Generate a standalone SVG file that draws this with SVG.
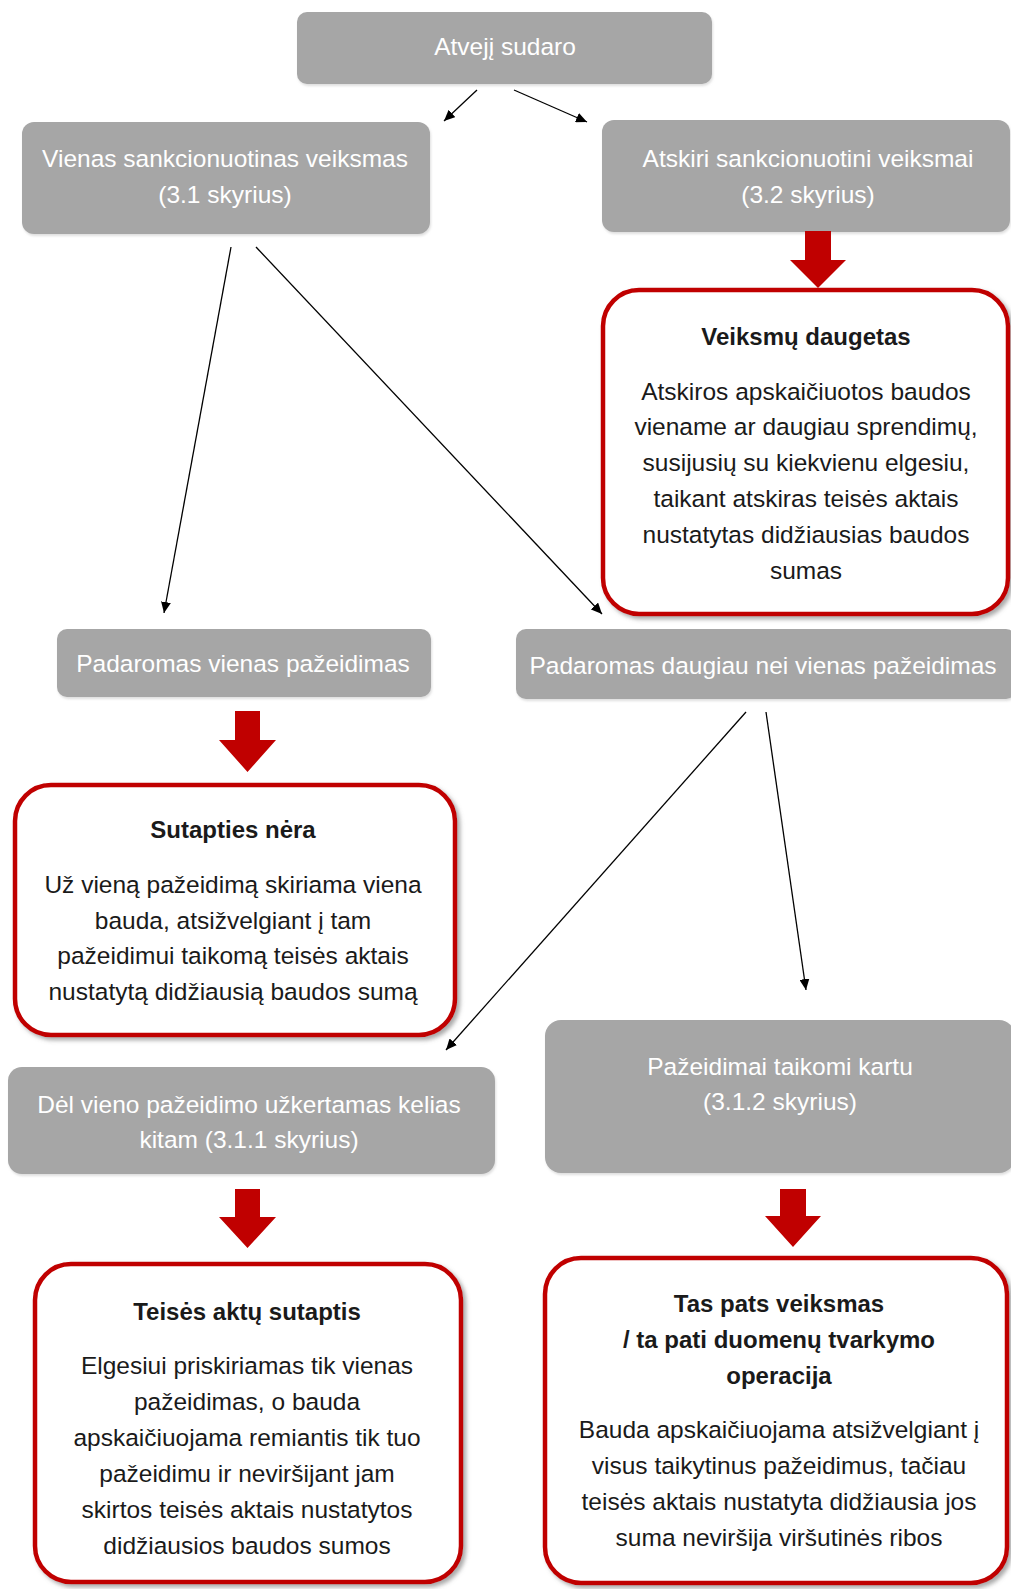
<svg xmlns="http://www.w3.org/2000/svg" width="1011" height="1589" viewBox="0 0 1011 1589">
<style>
text{font-family:"Liberation Sans",Arial,sans-serif;font-size:24.5px;text-anchor:middle}
.g{fill:#a6a6a6}
.gt{fill:#ffffff}
.r{fill:#ffffff;stroke:#c00000;stroke-width:4.5}
.bt{fill:#1a1a1a}
.h{font-weight:bold;font-size:24px}
.ln{stroke:#000;stroke-width:1.3;fill:none}
.ba{fill:#c00000}
</style>
<defs>
<filter id="sh" x="-10%" y="-10%" width="120%" height="120%">
<feDropShadow dx="3" dy="3" stdDeviation="2" flood-color="#6f6f6f" flood-opacity="0.6"/>
</filter>
<filter id="gs" x="-10%" y="-10%" width="120%" height="120%">
<feDropShadow dx="1" dy="2" stdDeviation="1" flood-color="#bfbfbf" flood-opacity="0.5"/>
</filter>
<marker id="ah" markerUnits="userSpaceOnUse" markerWidth="12" markerHeight="10" refX="11" refY="5" orient="auto">
<path d="M0,0 L11,5 L0,10 z" fill="#000"/>
</marker>
</defs>

<g id="n-atveji">
<rect class="g" filter="url(#gs)" x="297" y="12" width="415" height="72" rx="10"/>
<text class="gt" x="505" y="55">Atvejį sudaro</text>
</g>

<g id="n-vienas-veiksmas">
<rect class="g" filter="url(#gs)" x="22" y="122" width="408" height="112" rx="12"/>
<text class="gt" x="225" y="167">Vienas sankcionuotinas veiksmas</text>
<text class="gt" x="225" y="203">(3.1 skyrius)</text>
</g>

<g id="n-atskiri">
<rect class="g" filter="url(#gs)" x="602" y="120" width="408" height="112" rx="12"/>
<text class="gt" x="808" y="167">Atskiri sankcionuotini veiksmai</text>
<text class="gt" x="808" y="203">(3.2 skyrius)</text>
</g>

<g id="n-daugetas">
<rect class="r" filter="url(#sh)" x="603" y="290" width="405" height="324" rx="36"/>
<text class="bt h" x="806" y="345">Veiksmų daugetas</text>
<text class="bt" x="806" y="399.5">Atskiros apskaičiuotos baudos</text>
<text class="bt" x="806" y="435.3">viename ar daugiau sprendimų,</text>
<text class="bt" x="806" y="471.1">susijusių su kiekvienu elgesiu,</text>
<text class="bt" x="806" y="506.9">taikant atskiras teisės aktais</text>
<text class="bt" x="806" y="542.7">nustatytas didžiausias baudos</text>
<text class="bt" x="806" y="578.5">sumas</text>
</g>

<g id="n-vienas-pazeidimas">
<rect class="g" filter="url(#gs)" x="57" y="629" width="374" height="68" rx="10"/>
<text class="gt" x="243" y="672">Padaromas vienas pažeidimas</text>
</g>

<g id="n-daugiau-pazeidimu">
<rect class="g" filter="url(#gs)" x="516" y="629" width="500" height="70" rx="10"/>
<text class="gt" x="763" y="674">Padaromas daugiau nei vienas pažeidimas</text>
</g>

<g id="n-sutapties-nera">
<rect class="r" filter="url(#sh)" x="15" y="785" width="440" height="250" rx="36"/>
<text class="bt h" x="233" y="838">Sutapties nėra</text>
<text class="bt" x="233" y="893">Už vieną pažeidimą skiriama viena</text>
<text class="bt" x="233" y="928.5">bauda, atsižvelgiant į tam</text>
<text class="bt" x="233" y="964">pažeidimui taikomą teisės aktais</text>
<text class="bt" x="233" y="999.5">nustatytą didžiausią baudos sumą</text>
</g>

<g id="n-uzkertamas">
<rect class="g" filter="url(#gs)" x="8" y="1067" width="487" height="107" rx="14"/>
<text class="gt" x="249" y="1113">Dėl vieno pažeidimo užkertamas kelias</text>
<text class="gt" x="249" y="1148">kitam (3.1.1 skyrius)</text>
</g>

<g id="n-kartu">
<rect class="g" filter="url(#gs)" x="545" y="1020" width="470" height="153" rx="16"/>
<text class="gt" x="780" y="1075">Pažeidimai taikomi kartu</text>
<text class="gt" x="780" y="1110">(3.1.2 skyrius)</text>
</g>

<g id="n-sutaptis">
<rect class="r" filter="url(#sh)" x="35" y="1264" width="426" height="318" rx="36"/>
<text class="bt h" x="247" y="1320">Teisės aktų sutaptis</text>
<text class="bt" x="247" y="1374">Elgesiui priskiriamas tik vienas</text>
<text class="bt" x="247" y="1410">pažeidimas, o bauda</text>
<text class="bt" x="247" y="1446">apskaičiuojama remiantis tik tuo</text>
<text class="bt" x="247" y="1482">pažeidimu ir neviršijant jam</text>
<text class="bt" x="247" y="1518">skirtos teisės aktais nustatytos</text>
<text class="bt" x="247" y="1554">didžiausios baudos sumos</text>
</g>

<g id="n-tas-pats">
<rect class="r" filter="url(#sh)" x="545" y="1258" width="462" height="325" rx="36"/>
<text class="bt h" x="779" y="1312">Tas pats veiksmas</text>
<text class="bt h" x="779" y="1348">/ ta pati duomenų tvarkymo</text>
<text class="bt h" x="779" y="1384">operacija</text>
<text class="bt" x="779" y="1438">Bauda apskaičiuojama atsižvelgiant į</text>
<text class="bt" x="779" y="1474">visus taikytinus pažeidimus, tačiau</text>
<text class="bt" x="779" y="1510">teisės aktais nustatyta didžiausia jos</text>
<text class="bt" x="779" y="1546">suma neviršija viršutinės ribos</text>
</g>

<g id="connectors">
<line class="ln" x1="477" y1="90" x2="444" y2="121" marker-end="url(#ah)"/>
<line class="ln" x1="514" y1="90" x2="587" y2="122" marker-end="url(#ah)"/>
<line class="ln" x1="231" y1="247" x2="164" y2="613" marker-end="url(#ah)"/>
<line class="ln" x1="256" y1="247" x2="602" y2="614" marker-end="url(#ah)"/>
<line class="ln" x1="746" y1="712" x2="446" y2="1050" marker-end="url(#ah)"/>
<line class="ln" x1="766" y1="712" x2="806" y2="990" marker-end="url(#ah)"/>
<path class="ba" d="M805,231 H831 V260 H846 L818,288 L790,260 H805 Z"/>
<path class="ba" d="M235,711 H260 V740 H276 L247.5,772 L219,740 H235 Z"/>
<path class="ba" d="M235,1189 H260 V1217 H276 L247.5,1248 L219,1217 H235 Z"/>
<path class="ba" d="M780,1189 H806 V1216 H821 L793,1247 L765,1216 H780 Z"/>
</g>
</svg>
